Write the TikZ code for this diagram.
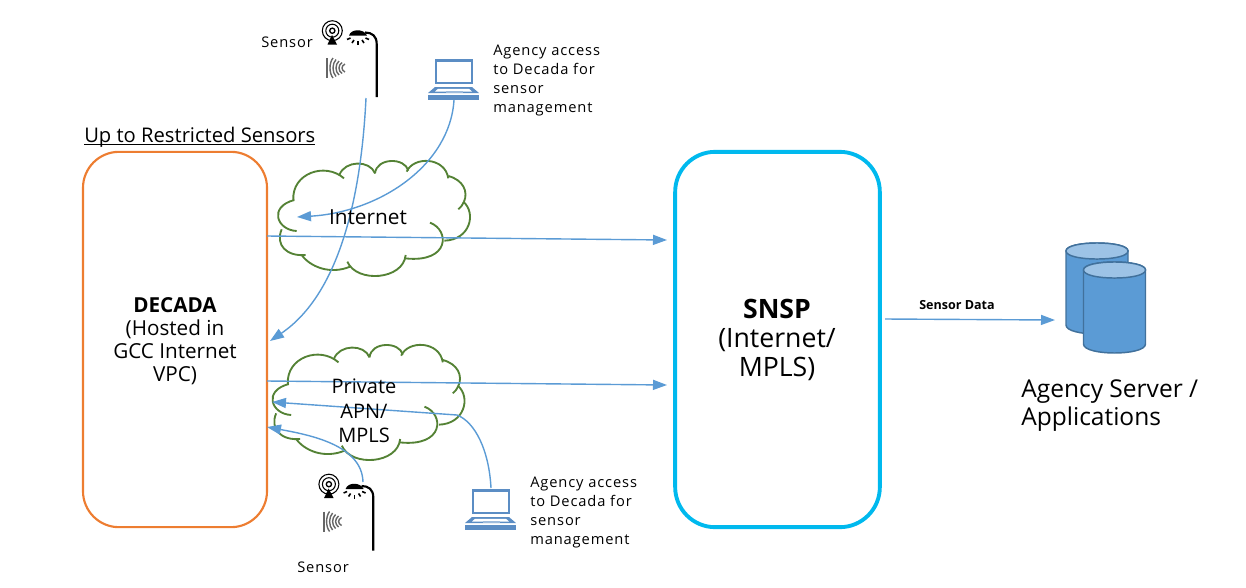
\documentclass[tikz,border=0pt]{standalone}
\usepackage{fontspec}
\usepackage{tikz}
\usepackage{xcolor}
\usetikzlibrary{arrows.meta,positioning}
\setmainfont{Open Sans}
\newfontfamily\spacedfont[LetterSpace=6]{Open Sans}
\definecolor{linkblue}{HTML}{5B9BD5}
\definecolor{dbedge}{HTML}{41719C}
\definecolor{dbtop}{HTML}{9DC3E6}
\definecolor{lapblue}{HTML}{5B8DC4}
\definecolor{cloudgreen}{HTML}{548235}
\definecolor{boxorange}{HTML}{ED7D31}
\definecolor{boxcyan}{HTML}{00B9EE}
\tikzset{
  link/.style={linkblue,line width=1.05pt,-{Triangle[length=10.5pt,width=7.5pt]}},
  smalltext/.style={inner sep=0pt,font=\spacedfont\fontsize{11}{14.25}\selectfont,align=left,text=black},
  bigtext/.style={inner sep=0pt,align=center,text=black},
  cloudline/.style={cloudgreen,line width=1.4pt},
  cloudshape/.pic={
    \begin{scope}[x=0.25pt,y=-0.25pt,cloudline]
      \draw (100,150) .. controls (95,70) and (195,35) .. (252,85);
      \draw (238,75) .. controls (255,30) and (330,30) .. (345,70);
      \draw (345,70) .. controls (350,22) and (435,22) .. (445,62);
      \draw (440,65) .. controls (460,18) and (555,20) .. (565,85);
      \draw (565,78) .. controls (610,90) and (625,125) .. (612,155);
      \draw (595,178) .. controls (602,172) and (608,165) .. (612,155);
      \draw (610,155) .. controls (650,190) and (630,270) .. (553,272);
      \draw (510,218) .. controls (570,240) and (570,340) .. (435,325);
      \draw (437,315) .. controls (430,390) and (290,400) .. (262,335);
      \draw (270,350) .. controls (210,375) and (150,350) .. (125,315);
      \draw (137,315) .. controls (80,320) and (45,285) .. (65,238);
      \draw (110,243) .. controls (50,240) and (25,170) .. (103,150);
    \end{scope}
  },
  sensoricon/.pic={
    \draw[black,line width=0.8pt] (12.3,10.7) circle (10) circle (6.5);
    \draw[black,line width=1pt] (12.3,10.7) circle (2.6);
    \fill[black] (12,15) -- (17,24.5) -- (7.5,24.5) -- cycle;
    \draw[black,line width=1.6pt] (56.7,77) -- (56.7,24) .. controls (56.7,16) and (52,12.5) .. (45,12.5);
    \fill[black] (29,15.5) .. controls (31,8.5) and (44,8.5) .. (47,15.5) -- cycle;
    \foreach \a/\b/\c/\d in {27/19.5/30.5/18,32/23/34/20,38/25/38/21,44/23/42/20,49/19.5/45.5/18} {
      \draw[black,line width=1.2pt] (\a,\b) -- (\c,\d);
    }
    \draw[black!60,line width=1.3pt] (7.3,38) -- (7.3,58);
    \foreach \i/\h in {0/10,1/8.5,2/7,3/5.5,4/4} {
      \draw[black!60,line width=1.05pt] (13+3*\i,48-\h) .. controls (9+3*\i,48-\h/2) and (9+3*\i,48+\h/2) .. (13+3*\i,48+\h);
    }
  },
  laptopicon/.pic={
    \draw[lapblue,line width=2.2pt] (1,0.5) rectangle (37,23);
    \fill[lapblue] (0,27) -- (37,27) -- (44,33) -- (-7,33) -- cycle;
    \fill[white] (3,28.8) -- (34,28.8) -- (37,31.5) -- (0,31.5) -- cycle;
    \fill[lapblue!60] (11,30.5) rectangle (28,33);
    \fill[lapblue] (-7,35) rectangle (44,39.5);
  },
  dbshape/.pic={
    \filldraw[fill=linkblue,draw=dbedge,line width=1.1pt] (0,8) -- (0,82) .. controls (0,94) and (62,94) .. (62,82) -- (62,8) .. controls (62,-2.7) and (0,-2.7) .. (0,8) -- cycle;
    \filldraw[fill=dbtop,draw=dbedge,line width=1.1pt] (0,8) .. controls (0,-2.7) and (62,-2.7) .. (62,8) .. controls (62,18.7) and (0,18.7) .. (0,8) -- cycle;
  }
}
\begin{document}
\begin{tikzpicture}[x=0.75pt,y=-0.75pt]
  \useasboundingbox (0,0) rectangle (1246,587);

  \pic at (260,150) {cloudshape};
  \pic at (254.5,334) {cloudshape};

  \node[draw=boxorange,line width=1.6pt,rounded corners=27pt,minimum width=138pt,minimum height=281.5pt] (decada) at (175,339.5) {};
  \node[draw=boxcyan,line width=2.9pt,rounded corners=30pt,minimum width=153.5pt,minimum height=281.5pt] (snsp) at (777.5,339.5) {};

  \pic at (320,20) {sensoricon};
  \pic at (316.6,473.5) {sensoricon};
  \pic at (435,60) {laptopicon};
  \pic at (472,490) {laptopicon};
  \pic at (1066,243) {dbshape};
  \pic at (1083.5,262) {dbshape};

  \coordinate (sensorA) at (366,98);
  \coordinate (sensorAend) at (270,341);
  \coordinate (laptopA) at (454,100);
  \coordinate (laptopAend) at (297,217);
  \coordinate (inetA) at (267,236);
  \coordinate (inetB) at (667,240);
  \coordinate (apnA) at (267,381);
  \coordinate (apnB) at (667,385);
  \coordinate (dataA) at (885,319);
  \coordinate (dataB) at (1055,320);
  \coordinate (laptopB) at (491,488);
  \coordinate (laptopBbend) at (457,415);
  \coordinate (laptopBend) at (272,402);
  \coordinate (sensorB) at (363,482);
  \coordinate (sensorBend) at (267,427);

  \draw[link] (sensorA) .. controls (362,180) and (345,290) .. (sensorAend);
  \draw[link] (laptopA) .. controls (450,165) and (380,212) .. (laptopAend);
  \draw[link] (inetA) -- (inetB);
  \draw[link] (apnA) -- (apnB);
  \draw[link] (dataA) -- (dataB);
  \draw[link] (laptopB) .. controls (489,450) and (475,422) .. (laptopBbend) -- (laptopBend);
  \draw[link] (sensorB) .. controls (362,445) and (310,435) .. (sensorBend);

  \node[inner sep=0pt,anchor=base west,font=\fontsize{15.15}{18}\selectfont] (upto) at (84,142) {\underline{\smash{Up to Restricted Sensors}}};
  \node[bigtext,font=\fontsize{15.5}{17.2}\selectfont] (decadatext) at (175,341) {\textbf{DECADA}\\(Hosted in\\GCC Internet\\VPC)};
  \node[bigtext,font=\fontsize{20}{21.8}\selectfont] (snsptext) at (777,340) {\textbf{SNSP}\\(Internet/\\MPLS)};
  \node[bigtext,font=\fontsize{15.6}{18}\selectfont] (internet) at (368,217) {Internet};
  \node[bigtext,font=\fontsize{15}{18.5}\selectfont] (private) at (364,411) {Private\\APN/\\MPLS};
  \node[bigtext,align=left,anchor=west,font=\fontsize{18.4}{21}\selectfont] (server) at (1021,406) {Agency Server /\\Applications};
  \node[inner sep=0pt,font=\bfseries\fontsize{9.4}{11}\selectfont] (sensordata) at (957,305) {Sensor Data};
  \node[smalltext,anchor=west] (sensortop) at (261,42) {Sensor};
  \node[smalltext,anchor=west] (sensorbot) at (297,567) {Sensor};
  \node[smalltext,anchor=west] (agencytop) at (493,80) {Agency access\\to Decada for\\sensor\\management};
  \node[smalltext,anchor=west] (agencybot) at (530,512) {Agency access\\to Decada for\\sensor\\management};
\end{tikzpicture}
\end{document}
